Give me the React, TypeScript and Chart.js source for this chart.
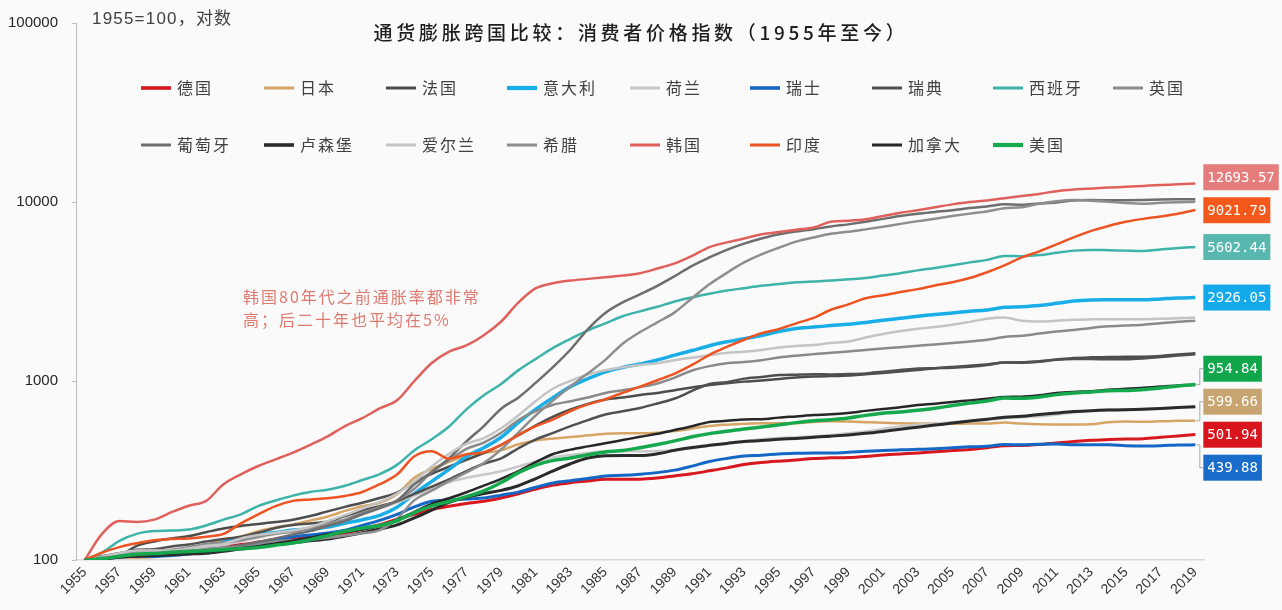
import React, { useEffect, useRef } from "react";
import { Chart, registerables } from "chart.js";

Chart.register(...registerables);

// Years on the category axis (1955 = 100 for every series)
const years: string[] = Array.from({ length: 65 }, (_, i) => String(1955 + i));
const yTickValues = [100, 1000, 10000, 100000];

const germany = [
  100, 102.6, 104.7, 107, 108.5, 110, 112.8, 116, 119.5, 122,
  126, 130.5, 132.7, 134.8, 137.5, 142, 149, 157.5, 169, 180,
  191.5, 199.5, 206.8, 213, 222, 234.5, 249, 262, 270.5, 276.5,
  283, 283, 283, 287, 295, 303.5, 314.8, 327, 341.3, 350.5,
  356.7, 361.8, 368.9, 372, 374.1, 379.2, 386.3, 391.4, 395.5, 402.7,
  408.8, 414.9, 424.1, 435.4, 436.4, 441.5, 450.7, 459.9, 467.1, 471.1,
  474.2, 476.3, 484.4, 493.6, 501.94,
];
const japan = [
  100, 100.3, 103.4, 103, 104, 108, 113.6, 121, 130, 135,
  145, 152, 158, 166, 175, 188, 200, 209, 233, 288,
  323, 353, 382, 397, 411, 443, 465, 477, 486, 497,
  507, 510, 510, 514, 526, 542, 560, 570, 577, 581,
  580, 581, 591, 595, 593, 589, 585, 580, 578, 578,
  577, 578, 578, 586, 578, 573, 571, 571, 573, 588,
  593, 592, 595, 599, 599.66,
];
const france = [
  100, 102, 105, 120, 127, 132, 136, 143, 150, 155,
  159, 163, 168, 176, 187, 198, 209, 222, 238, 271,
  303, 332, 363, 396, 439, 498, 565, 632, 693, 745,
  789, 809, 835, 858, 889, 920, 949, 972, 992, 1008,
  1026, 1047, 1059, 1066, 1072, 1090, 1108, 1129, 1153, 1177,
  1198, 1218, 1236, 1270, 1271, 1291, 1318, 1344, 1356, 1363,
  1364, 1367, 1381, 1406, 1430,
];
const italy = [
  100, 103.4, 104.7, 107.6, 107.2, 109.6, 111.8, 117.1, 125.6, 133.4,
  139, 142.3, 147, 148.9, 152.7, 160.4, 168, 177.5, 197, 235,
  275, 321, 378, 424, 485, 588, 696, 810, 930, 1030,
  1125, 1190, 1245, 1310, 1395, 1480, 1575, 1655, 1725, 1795,
  1890, 1965, 2000, 2040, 2075, 2125, 2185, 2240, 2300, 2350,
  2400, 2450, 2495, 2580, 2600, 2640, 2715, 2800, 2835, 2842,
  2843, 2840, 2875, 2910, 2926.05,
];
const netherlands = [
  100, 102, 107, 109, 110, 112, 114, 117, 121, 127,
  133, 140, 145, 151, 162, 168, 180, 194, 209, 229,
  250, 272, 288, 300, 313, 333, 355, 375, 386, 396,
  405, 405, 404, 406, 411, 421, 436, 449, 461, 472,
  480, 485, 492, 500, 510, 522, 540, 558, 570, 579,
  588, 596, 605, 620, 627, 635, 650, 667, 684, 692,
  695, 697, 705, 712, 716,
];
const switzerland = [
  100, 101.5, 103.5, 105.4, 104.6, 106, 108, 112.6, 116.5, 120,
  124, 129.7, 134.7, 138, 141.5, 146.6, 156, 166.5, 180, 198,
  212.8, 216.4, 219.5, 222, 230.3, 239.5, 255, 269.4, 277.5, 285.5,
  295, 297.3, 301.6, 307.7, 317.7, 334.7, 354.7, 369.3, 381.5, 384.8,
  391.5, 394.8, 396.5, 396.5, 399.8, 405.6, 409.6, 412.5, 415, 418.3,
  423.9, 428.6, 431.6, 442, 439.9, 443.1, 444, 441, 440, 440,
  434.9, 433.2, 435.2, 439, 439.88,
];
const sweden = [
  100, 105, 109, 114, 115, 119, 122, 127, 131, 135,
  142, 151, 157, 160, 164, 176, 189, 200, 213, 234,
  257, 282, 314, 345, 370, 421, 472, 513, 560, 605,
  650, 678, 707, 749, 798, 880, 963, 985, 1031, 1054,
  1079, 1085, 1091, 1088, 1093, 1103, 1128, 1151, 1174, 1179,
  1184, 1200, 1227, 1269, 1265, 1279, 1313, 1325, 1325, 1322,
  1322, 1335, 1360, 1386, 1410,
];
const spain = [
  100, 110, 128, 140, 145, 146, 148, 156, 168, 180,
  200, 215, 229, 240, 247, 260, 280, 302, 340, 410,
  473, 557, 694, 832, 963, 1150, 1330, 1530, 1720, 1920,
  2100, 2300, 2450, 2600, 2780, 2930, 3070, 3200, 3300, 3400,
  3480, 3560, 3600, 3640, 3700, 3760, 3880, 4000, 4150, 4280,
  4430, 4600, 4750, 5000, 4980, 5050, 5200, 5350, 5400, 5380,
  5350, 5330, 5430, 5530, 5602.44,
];
const uk = [
  100, 105, 109, 112, 113, 114, 118, 123, 125, 129,
  135, 140, 144, 150, 158, 168, 184, 197, 215, 250,
  310, 361, 418, 453, 514, 606, 678, 737, 771, 809,
  858, 887, 924, 969, 1045, 1144, 1211, 1256, 1276, 1307,
  1352, 1385, 1413, 1440, 1460, 1490, 1520, 1545, 1575, 1600,
  1630, 1660, 1700, 1760, 1790, 1840, 1890, 1930, 1980, 2020,
  2040, 2060, 2100, 2140, 2170,
];
const portugal = [
  100, 102, 104, 105, 107, 110, 112, 115, 117, 121,
  126, 132, 139, 145, 155, 165, 180, 195, 215, 265,
  310, 370, 460, 560, 700, 810, 980, 1200, 1500, 1950,
  2400, 2750, 3050, 3400, 3850, 4400, 4900, 5400, 5850, 6250,
  6600, 6850, 7050, 7300, 7500, 7750, 8050, 8350, 8600, 8800,
  9000, 9250, 9450, 9700, 9650, 9800, 9950, 10200, 10250, 10220,
  10240, 10270, 10320, 10350, 10370,
];
const luxembourg = [
  100, 101, 104, 105, 106, 107, 108, 109, 112, 115,
  119, 123, 125, 128, 131, 136, 142, 149, 157, 172,
  190, 210, 224, 235, 245, 260, 285, 315, 345, 371,
  382, 383, 383, 392, 410, 425, 437, 448, 459, 465,
  472, 478, 485, 492, 500, 510, 523, 538, 552, 567,
  582, 598, 612, 628, 635, 650, 663, 675, 683, 688,
  690, 695, 703, 711, 718,
];
const ireland = [
  100, 104, 109, 113, 113, 113, 116, 120, 123, 132,
  138, 142, 146, 153, 165, 178, 194, 211, 235, 275,
  333, 392, 445, 480, 545, 644, 774, 908, 1002, 1089,
  1149, 1193, 1230, 1256, 1307, 1350, 1393, 1436, 1456, 1490,
  1540, 1570, 1590, 1630, 1660, 1750, 1830, 1900, 1960, 2000,
  2060, 2140, 2230, 2260, 2170, 2150, 2170, 2200, 2210, 2215,
  2210, 2215, 2225, 2245, 2260,
];
const greece = [
  100, 103, 105, 107, 109, 111, 113, 114, 117, 118,
  122, 127, 129, 130, 133, 137, 141, 147, 170, 216,
  244, 276, 309, 348, 414, 517, 644, 780, 936, 1104,
  1313, 1615, 1874, 2127, 2418, 2902, 3467, 4018, 4597, 5098,
  5552, 6007, 6337, 6641, 6814, 7032, 7271, 7547, 7818, 8061,
  8343, 8611, 8861, 9225, 9345, 9785, 10108, 10259, 10167, 10035,
  9864, 9786, 9893, 9972, 10022,
];
const korea = [
  100, 140, 165, 163, 168, 185, 201, 214, 265, 301,
  335, 365, 398, 440, 490, 560, 620, 703, 780, 1000,
  1260, 1460, 1580, 1800, 2150, 2750, 3300, 3520, 3640, 3720,
  3800, 3880, 4000, 4250, 4540, 5000, 5600, 5950, 6250, 6600,
  6800, 7000, 7200, 7750, 7850, 8000, 8350, 8700, 9000, 9350,
  9700, 10000, 10200, 10500, 10800, 11100, 11500, 11750, 11900, 12050,
  12150, 12300, 12450, 12550, 12693.57,
];
const india = [
  100, 110, 118, 124, 129, 131, 132, 135, 140, 160,
  180, 200, 214, 218, 221, 228, 240, 265, 300, 380,
  405, 368, 390, 400, 440, 500, 560, 610, 680, 740,
  790, 860, 930, 1010, 1100, 1230, 1400, 1550, 1700, 1850,
  1950, 2100, 2250, 2500, 2680, 2900, 3010, 3140, 3260, 3420,
  3560, 3760, 4050, 4420, 4900, 5300, 5800, 6350, 6900, 7350,
  7750, 8050, 8300, 8600, 9021.79,
];
const canada = [
  100, 101.5, 104.7, 107.4, 108.6, 109.9, 110.9, 112.3, 114.3, 116.5,
  119.2, 123.8, 128.3, 133.4, 139.4, 143.9, 148, 155.2, 167.5, 185.8,
  205.9, 221.3, 239, 260.2, 284.2, 313.3, 352.6, 390.8, 413.7, 431.4,
  448.9, 467.8, 487.6, 507.2, 532.2, 558.9, 590.1, 599.2, 610.1, 611.1,
  624.3, 634.3, 644.8, 651.1, 662.8, 680.9, 698.3, 713.7, 733.4, 747.4,
  764.2, 779.4, 796, 814.6, 816.9, 831.8, 855.9, 868.9, 876.8, 894,
  903.9, 917, 931.5, 945, 952,
];
const usa = [
  100, 101.5, 104.9, 107.8, 108.6, 110.4, 111.6, 112.7, 114.2, 115.7,
  117.5, 120.9, 124.6, 129.9, 136.9, 144.8, 151.1, 156, 165.7, 184,
  200.7, 212.3, 226.1, 243.3, 270.9, 307.5, 339.2, 360.1, 371.6, 387.7,
  401.5, 409, 423.9, 441.4, 462.7, 487.7, 508.2, 523.5, 539.2, 553,
  568.7, 585.4, 598.9, 608.2, 621.6, 642.5, 660.8, 671.3, 686.6, 704.9,
  728.7, 752.2, 773.5, 803.4, 800.4, 813.8, 839.2, 856.7, 869.4, 883.2,
  884.3, 895.5, 914.6, 936.9, 954.84,
];

// name, values, line colour, line width, end-label box colour (null = no label)
const seriesList: [string, number[], string, number, string | null][] = [
  ["德国", germany, "#D7181F", 3, "#D8141C"],
  ["日本", japan, "#D6A566", 2.5, "#C8A470"],
  ["法国", france, "#4D4D4D", 2.5, null],
  ["意大利", italy, "#1AAEE8", 3.5, "#14A9EA"],
  ["荷兰", netherlands, "#C9C9C9", 2.5, null],
  ["瑞士", switzerland, "#1467C4", 3, "#1A6CCA"],
  ["瑞典", sweden, "#505050", 2.5, null],
  ["西班牙", spain, "#3DB3A9", 2.5, "#58B7AF"],
  ["英国", uk, "#8A8A8A", 2.5, null],
  ["葡萄牙", portugal, "#6E6E6E", 2.5, null],
  ["卢森堡", luxembourg, "#2B2B2B", 3, null],
  ["爱尔兰", ireland, "#C4C4C4", 2.5, null],
  ["希腊", greece, "#8E8E8E", 2.5, null],
  ["韩国", korea, "#E0615C", 2.5, "#E57D7D"],
  ["印度", india, "#EE5322", 2.5, "#F4581A"],
  ["加拿大", canada, "#262626", 2.5, null],
  ["美国", usa, "#16A84C", 3.5, "#12A64C"],
];

const titleText = "通货膨胀跨国比较：消费者价格指数（1955年至今）";
const subtitleText = "1955=100，对数";
const noteLines = ["韩国80年代之前通胀率都非常", "高；后二十年也平均在5%"];

const LATIN = "'Liberation Sans', Arial, sans-serif";
const CJK = "'Noto Sans CJK SC', 'Liberation Sans', sans-serif";

const overlayPlugin = {
  id: "overlay",
  afterDatasetsDraw(chart: any) {
    const ctx: CanvasRenderingContext2D = chart.ctx;
    const items: any[] = [];
    chart.data.datasets.forEach((ds: any, i: number) => {
      if (!ds.boxColor) return;
      const meta = chart.getDatasetMeta(i);
      const pt = meta.data[meta.data.length - 1];
      const value = ds.data[ds.data.length - 1];
      items.push({ px: pt.x, py: pt.y, want: pt.y, text: value.toFixed(2), color: ds.boxColor });
    });
    // spread overlapping end labels apart, keeping each crowded group near its points
    items.sort((a, b) => a.want - b.want);
    const gap = 33;
    const lift = 3;
    let groups = items.map((it) => ({ members: [it], center: it.want }));
    let changed = true;
    while (changed) {
      changed = false;
      for (let k = 0; k < groups.length - 1; k++) {
        const a = groups[k];
        const b = groups[k + 1];
        const aBottom = a.center + ((a.members.length - 1) * gap) / 2;
        const bTop = b.center - ((b.members.length - 1) * gap) / 2;
        if (bTop - aBottom < gap) {
          const members = a.members.concat(b.members);
          const center = members.reduce((s: number, m: any) => s + m.want, 0) / members.length;
          groups.splice(k, 2, { members, center });
          changed = true;
          break;
        }
      }
    }
    groups.forEach((g) => {
      const shift = g.members.length > 1 ? lift : 0;
      g.members.forEach((m: any, j: number) => {
        m.y = g.center - shift + (j - (g.members.length - 1) / 2) * gap;
      });
    });

    ctx.save();
    ctx.font = "14px 'DejaVu Sans Mono', monospace";
    items.forEach((m) => {
      const left = m.px + 8;
      if (Math.abs(m.y - m.py) > 10) {
        ctx.strokeStyle = "#A6A6A6";
        ctx.lineWidth = 1;
        ctx.beginPath();
        ctx.moveTo(m.px + 1, m.py);
        ctx.lineTo(m.px + 4.5, m.py);
        ctx.lineTo(m.px + 4.5, m.y);
        ctx.lineTo(left, m.y);
        ctx.stroke();
      }
      const w = ctx.measureText(m.text).width + 8;
      ctx.fillStyle = m.color;
      ctx.fillRect(left, m.y - 13, w, 26);
      ctx.fillStyle = "#FFFFFF";
      ctx.textAlign = "left";
      ctx.textBaseline = "middle";
      ctx.fillText(m.text, left + 4, m.y + 1);
    });
    ctx.restore();
  },
  afterDraw(chart: any) {
    const ctx: CanvasRenderingContext2D & { letterSpacing?: string } = chart.ctx;
    ctx.save();
    ctx.textBaseline = "middle";

    // title
    ctx.fillStyle = "#1E1E1E";
    ctx.font = `500 19px ${CJK}`;
    ctx.letterSpacing = "3.7px";
    ctx.textAlign = "center";
    ctx.fillText(titleText, 641, 33);

    // unit note
    ctx.fillStyle = "#404040";
    ctx.font = `17px 'Liberation Sans', 'Noto Sans CJK SC', sans-serif`;
    ctx.letterSpacing = "1.2px";
    ctx.textAlign = "left";
    ctx.fillText(subtitleText, 92, 19);

    // legend
    const cols = [141, 264, 386, 507, 630, 750, 872, 993, 1113];
    const rows = [88, 145];
    ctx.font = `16px ${CJK}`;
    ctx.letterSpacing = "2px";
    chart.data.datasets.forEach((ds: any, i: number) => {
      const r = Math.floor(i / 9);
      const c = i % 9;
      const x = cols[c];
      const y = rows[r];
      ctx.strokeStyle = ds.borderColor;
      ctx.lineWidth = ds.borderWidth * 1.2;
      ctx.beginPath();
      ctx.moveTo(x, y);
      ctx.lineTo(x + 30, y);
      ctx.stroke();
      ctx.fillStyle = "#404040";
      ctx.fillText(ds.label, x + 36, y);
    });

    // annotation
    ctx.fillStyle = "#E07A70";
    ctx.font = `16px ${CJK}`;
    ctx.letterSpacing = "2px";
    ctx.fillText(noteLines[0], 243, 297);
    ctx.fillText(noteLines[1], 243, 320);
    ctx.letterSpacing = "0px";
    ctx.restore();
  },
};

export default function App() {
  const ref = useRef<HTMLCanvasElement>(null);

  useEffect(() => {
    if (!ref.current) return;
    const n = seriesList.length;
    const chart = new Chart(ref.current, {
      type: "line",
      data: {
        labels: years,
        datasets: seriesList.map(([label, values, color, width, boxColor], i) => ({
          label,
          data: values,
          borderColor: color,
          backgroundColor: color,
          borderWidth: width,
          pointRadius: 0,
          cubicInterpolationMode: "monotone",
          fill: false,
          order: n - 1 - i,
          boxColor,
        })) as any,
      },
      options: {
        responsive: false,
        animation: false,
        layout: { padding: { left: 0, right: 78, top: 18, bottom: 0 } },
        plugins: {
          legend: { display: false },
          title: { display: false },
          tooltip: { enabled: false },
        },
        scales: {
          x: {
            type: "category",
            offset: true,
            grid: { display: false, drawTicks: false },
            border: { display: true, color: "#D9D9D9", width: 1.5 },
            ticks: {
              autoSkip: false,
              maxRotation: 45,
              minRotation: 45,
              padding: 4,
              color: "#333333",
              font: { size: 14, family: LATIN },
              callback: function (this: any, v: any, i: number) {
                return i % 2 === 0 ? this.getLabelForValue(v) : "";
              },
            },
            afterFit(scale: any) {
              scale.height = 50;
            },
          },
          y: {
            type: "logarithmic",
            min: 100,
            max: 100000,
            afterBuildTicks(scale: any) {
              scale.ticks = yTickValues.map((v) => ({ value: v }));
            },
            grid: { drawOnChartArea: false, drawTicks: true, tickLength: 4, color: "#BFBFBF" },
            border: { display: true, color: "#BFBFBF" },
            ticks: {
              padding: 14,
              color: "#262626",
              font: { size: 15, family: LATIN },
              callback: (v: any) => String(v),
            },
            afterFit(scale: any) {
              scale.width = 76;
            },
          },
        },
      } as any,
      plugins: [overlayPlugin],
    });
    return () => chart.destroy();
  }, []);

  return (
    <div
      style={{
        position: "fixed",
        left: 0,
        top: 0,
        width: 1282,
        height: 610,
        background: "#FAFAFB",
      }}
    >
      <canvas ref={ref} width={1282} height={610} style={{ display: "block", width: 1282, height: 610 }} />
    </div>
  );
}
